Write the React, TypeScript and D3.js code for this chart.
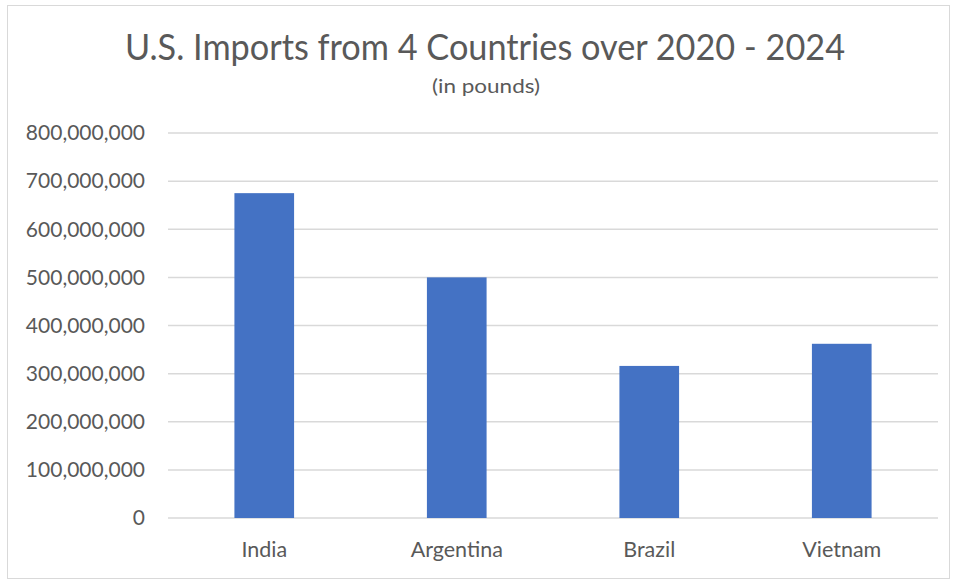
import React from "react";
import * as d3 from "d3";

const categories = ["India", "Argentina", "Brazil", "Vietnam"];
const values = [675000000, 500000000, 316000000, 362000000];
const tickValues = [0, 100000000, 200000000, 300000000, 400000000, 500000000, 600000000, 700000000, 800000000];
const title = "U.S. Imports from 4 Countries over 2020 - 2024";
const subtitle = "(in pounds)";

export default function App() {
  const W = 956, H = 580;
  const left = 168, right = 938, top = 133, bottom = 518;
  const x = d3.scaleBand<string>().domain(categories).range([left, right]).paddingInner(0.69).paddingOuter(0.345);
  const y = d3.scaleLinear().domain([0, 800000000]).range([bottom, top]);
  const fmt = d3.format(",");
  const font = "Lato, 'Open Sans', sans-serif";
  return (
    <svg width={W} height={H} style={{ position: "fixed", left: 0, top: 0, background: "#fff" }}>
      <rect x={7.5} y={5.5} width={942} height={573} fill="#fff" stroke="#d9d9d9" strokeWidth={1} />
      <text x={485} y={60} textAnchor="middle" fontFamily={font} fontSize={36} fill="#595959" textLength={720} lengthAdjust="spacingAndGlyphs">{title}</text>
      <text x={486} y={93} textAnchor="middle" fontFamily={font} fontSize={20} fill="#595959" textLength={108} lengthAdjust="spacingAndGlyphs">{subtitle}</text>
      {tickValues.map((t) => (
        <g key={t}>
          <line x1={left} x2={right} y1={y(t)} y2={y(t)} stroke="#d9d9d9" strokeWidth={1.5} />
          <text x={145} y={y(t)} dy="0.35em" textAnchor="end" fontFamily={font} fontSize={21} fill="#595959">{fmt(t)}</text>
        </g>
      ))}
      {categories.map((c, i) => (
        <rect key={c} x={x(c)} y={y(values[i])} width={x.bandwidth()} height={bottom - y(values[i])} fill="#4472c4" />
      ))}
      {categories.map((c) => (
        <text key={c} x={(x(c) as number) + x.bandwidth() / 2} y={557} textAnchor="middle" fontFamily={font} fontSize={21.5} fill="#595959">{c}</text>
      ))}
    </svg>
  );
}
